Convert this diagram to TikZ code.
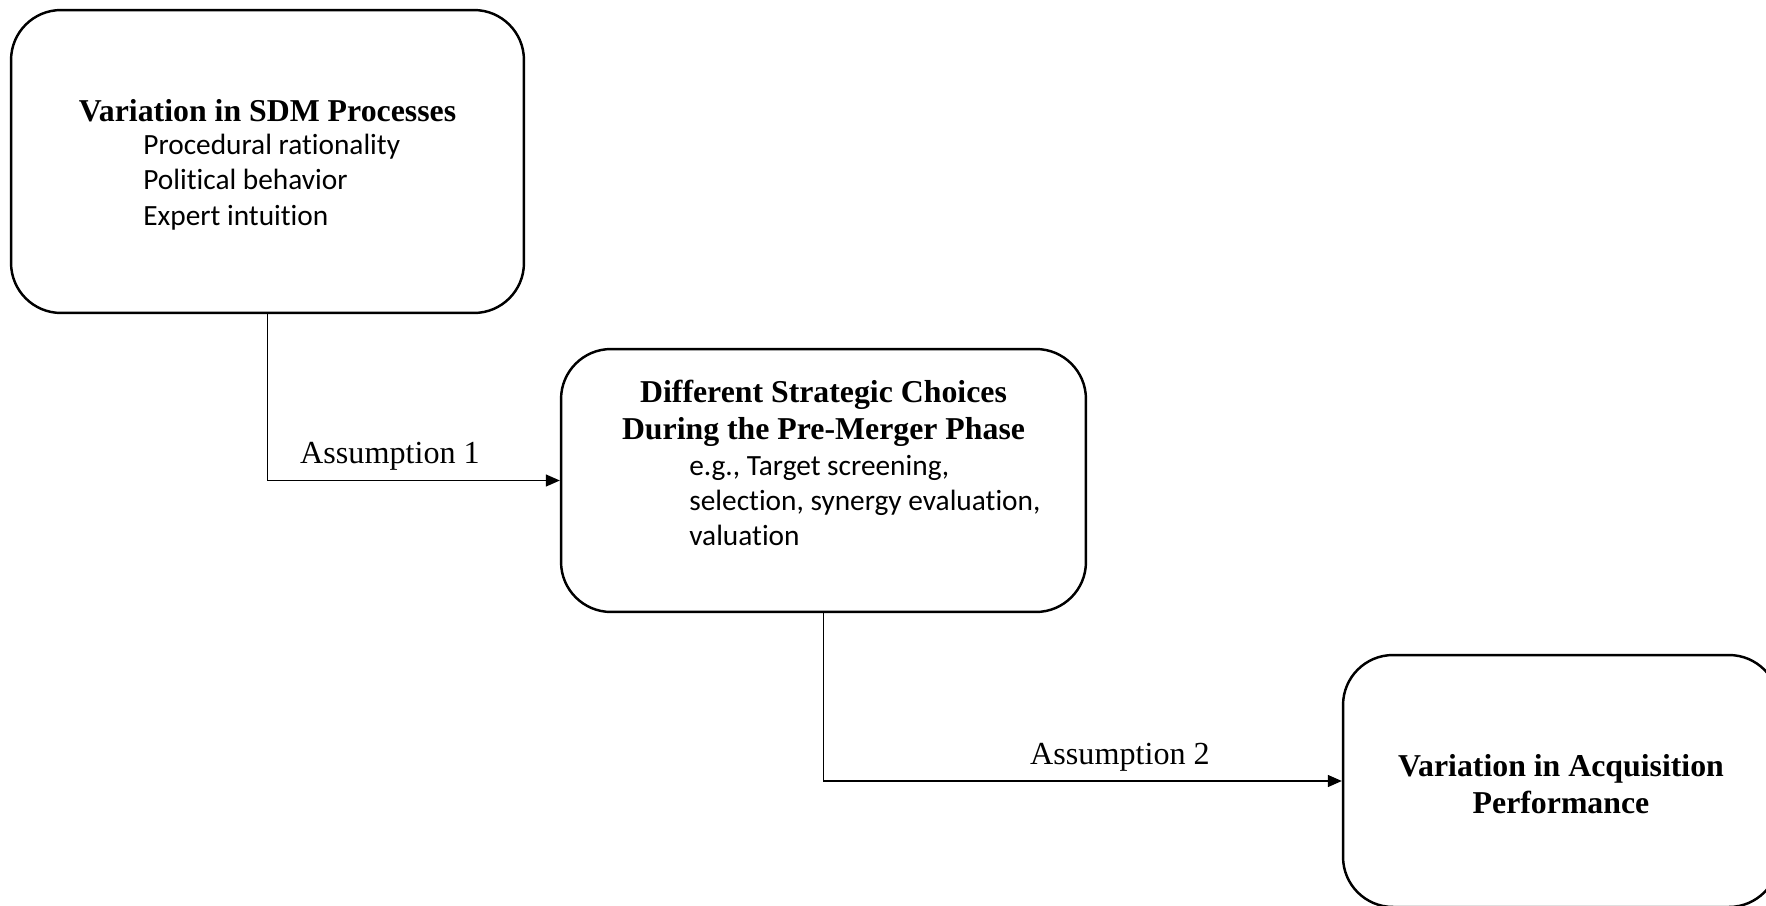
\documentclass[tikz,border=0pt]{standalone}
\usepackage{fontspec}
\setmainfont{Liberation Serif}
\newfontfamily\calibri[Ligatures=NoCommon]{Carlito}
\usetikzlibrary{positioning,arrows.meta}

\begin{document}
\begin{tikzpicture}[x=0.02cm,y=-0.02cm,
	stagebox/.style={draw,line width=1.4pt,rounded corners=1cm,inner sep=0pt},
	headtext/.style={font=\fontsize{18.1}{21}\selectfont\bfseries,align=center,inner sep=0pt},
	itemtext/.style={font=\calibri\fontsize{16.7}{20.2}\selectfont,align=left,inner sep=0pt},
	linktext/.style={font=\fontsize{18.3}{22}\selectfont,inner sep=0pt},
	link/.style={line width=0.75pt,-{Triangle[length=0.28cm,width=0.24cm]}}
	]
	\useasboundingbox (0,0) rectangle (1766,906);

	% the three stages
	\node[stagebox,minimum width=10.26cm,minimum height=6.06cm] (sdm) at (267.5,161.5) {};
	\node[stagebox,minimum width=10.5cm,minimum height=5.26cm] (choice) at (823.5,480.5) {};
	\node[stagebox,minimum width=8.72cm,minimum height=5.04cm] (perf) at (1561,781) {};

	% texts inside the boxes
	\node[headtext,anchor=base] (sdmhead) at (267.5,121) {Variation in SDM Processes};
	\node[itemtext,anchor=west] (sdmitems) at (143,182) {Procedural rationality\\Political behavior\\Expert intuition};
	\node[headtext,text depth=0pt] (choicehead) at (823.5,409.5) {Different Strategic Choices\\During the Pre-Merger Phase};
	\node[itemtext,anchor=west] (choiceitems) at (689,500.5) {e.g., Target screening,\\selection, synergy evaluation,\\valuation};
	\node[headtext] (perfhead) at (1561,784) {Variation in Acquisition\\Performance};

	% links
	\draw[link] (sdm.south) |- (choice.west);
	\draw[link] (choice.south) |- (perf.west);
	\node[linktext,anchor=base] (asm1) at (390,463) {Assumption 1};
	\node[linktext,anchor=base] (asm2) at (1120,764) {Assumption 2};

\end{tikzpicture}
\end{document}
